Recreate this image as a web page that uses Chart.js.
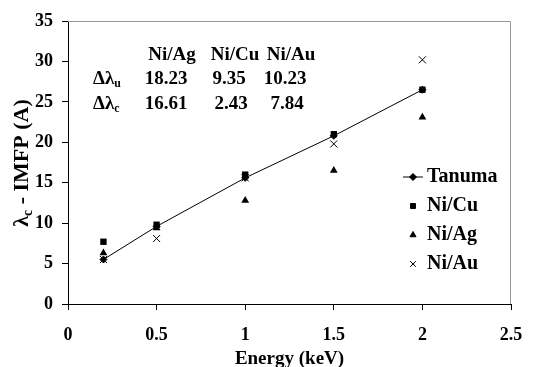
<!DOCTYPE html>
<html>
<head>
<meta charset="utf-8">
<script src="https://cdn.jsdelivr.net/npm/chart.js@4.4.1/dist/chart.umd.min.js"></script>
<style>
    html, body { margin: 0; padding: 0; background: #fff; }
    #wrap { width: 542px; height: 367px; }
</style>
</head>
<body>
<div id="wrap"><canvas id="chart" width="542" height="367"></canvas></div>
<script>
const energies = [0.2, 0.5, 1, 1.5, 2];
const tanuma = [5.5, 9.6, 15.6, 20.8, 26.5];
const niCu = [7.7, 9.8, 16.0, 21.0, 26.5];
const niAg = [6.3, 9.4, 12.8, 16.5, 23.1];
const niAu = [5.5, 8.1, 15.6, 19.8, 30.2];

const tableHeads = ["Ni/Ag", "Ni/Cu", "Ni/Au"];
const deltaU = ["18.23", "9.35", "10.23"];
const deltaC = ["16.61", "2.43", "7.84"];

const FONT = "'Liberation Serif', 'Times New Roman', serif";

function points(values) {
    return values.map(function (v, i) {
        return { x: energies[i], y: v };
    });
}

const datasets = [
    { label: "Tanuma", data: points(tanuma), showLine: true, borderColor: "#000", backgroundColor: "#000",
      borderWidth: 1, pointStyle: "rectRot", pointRadius: 3.5 },
    { label: "Ni/Cu", data: points(niCu), showLine: false, borderColor: "#000", backgroundColor: "#000",
      pointStyle: "rect", pointRadius: 4.5, pointBorderWidth: 0 },
    { label: "Ni/Ag", data: points(niAg), showLine: false, borderColor: "#000", backgroundColor: "#000",
      pointStyle: "triangle", pointRadius: 4.5, pointBorderWidth: 0 },
    { label: "Ni/Au", data: points(niAu), showLine: false, borderColor: "#000", backgroundColor: "#000",
      pointStyle: "crossRot", pointRadius: 5, pointBorderWidth: 1 }
];

// text with a subscript letter, e.g. λ + c
function drawSub(ctx, parts, x, y, size) {
    let cx = x;
    parts.forEach(function (p) {
        ctx.font = "bold " + (p.sub ? size * 0.62 : size) + "px " + FONT;
        ctx.fillText(p.t, cx, p.sub ? y + size * 0.28 : y);
        cx += ctx.measureText(p.t).width;
    });
    return cx - x;
}

function measureSub(ctx, parts, size) {
    let w = 0;
    parts.forEach(function (p) {
        ctx.font = "bold " + (p.sub ? size * 0.62 : size) + "px " + FONT;
        w += ctx.measureText(p.t).width;
    });
    return w;
}

const decorations = {
    id: "decorations",
    afterDraw: function (chart) {
        const ctx = chart.ctx;
        const area = chart.chartArea;
        ctx.save();

        // grey top and right frame
        ctx.strokeStyle = "#999";
        ctx.lineWidth = 1;
        ctx.beginPath();
        ctx.moveTo(area.left, area.top + 0.5);
        ctx.lineTo(area.right - 0.5, area.top + 0.5);
        ctx.lineTo(area.right - 0.5, area.bottom);
        ctx.stroke();

        ctx.fillStyle = "#000";
        ctx.textBaseline = "middle";

        // y axis title, rotated
        const titleParts = [{ t: "λ" }, { t: "c", sub: true }, { t: " - IMFP (A)" }];
        ctx.save();
        ctx.translate(22, 163);
        ctx.rotate(-Math.PI / 2);
        const tw = measureSub(ctx, titleParts, 22);
        drawSub(ctx, titleParts, -tw / 2, 0, 22);
        ctx.restore();

        // table of differences
        const cols = [172, 235, 291];
        ctx.textAlign = "center";
        ctx.font = "bold 19px " + FONT;
        tableHeads.forEach(function (h, i) { ctx.fillText(h, cols[i], 55); });
        deltaU.forEach(function (v, i) { ctx.fillText(v, cols[i] - 6, 79); });
        deltaC.forEach(function (v, i) { ctx.fillText(v, cols[i] - 6 + (i > 0 ? 2 : 0), 104); });
        ctx.textAlign = "left";
        drawSub(ctx, [{ t: "Δλ" }, { t: "u", sub: true }], 93, 79, 19);
        drawSub(ctx, [{ t: "Δλ" }, { t: "c", sub: true }], 93, 104, 19);

        // legend inside the plot
        const lx = 413;
        let ly = 177;
        chart.data.datasets.forEach(function (ds) {
            if (ds.showLine) {
                ctx.strokeStyle = "#000";
                ctx.lineWidth = 1;
                ctx.beginPath();
                ctx.moveTo(lx - 10, ly);
                ctx.lineTo(lx + 10, ly);
                ctx.stroke();
            }
            Chart.helpers.drawPoint(ctx, {
                pointStyle: ds.pointStyle,
                radius: ds.pointStyle === "crossRot" ? 4 : 3.5,
                borderWidth: 1,
                rotation: 0
            }, lx, ly);
            ctx.font = "bold 20px " + FONT;
            ctx.fillText(ds.label, lx + 14, ly);
            ly += 29;
        });

        ctx.restore();
    }
};

new Chart(document.getElementById("chart"), {
    type: "scatter",
    data: { datasets: datasets },
    plugins: [decorations],
    options: {
        responsive: false,
        animation: false,
        layout: { padding: { top: 21, right: 31, left: 0, bottom: 0 } },
        plugins: { legend: { display: false }, tooltip: { enabled: false } },
        scales: {
            x: {
                type: "linear",
                min: 0,
                max: 2.5,
                afterFit: function (scale) { scale.height = 63; },
                ticks: {
                    stepSize: 0.5,
                    color: "#000",
                    padding: 15,
                    font: { family: FONT, size: 18, weight: "bold" },
                    callback: function (value) { return String(value); }
                },
                grid: { drawOnChartArea: false, color: "#000", tickLength: 6 },
                border: { color: "#000", width: 1 },
                title: {
                    display: true,
                    text: "Energy (keV)",
                    color: "#000",
                    padding: { top: 0, bottom: -3 },
                    font: { family: FONT, size: 19, weight: "bold" }
                }
            },
            y: {
                min: 0,
                max: 35,
                afterFit: function (scale) { scale.width = 68; },
                ticks: {
                    stepSize: 5,
                    color: "#000",
                    padding: 9,
                    font: { family: FONT, size: 18, weight: "bold" }
                },
                grid: { drawOnChartArea: false, color: "#000", tickLength: 6 },
                border: { color: "#000", width: 1 }
            }
        }
    }
});
</script>
</body>
</html>
